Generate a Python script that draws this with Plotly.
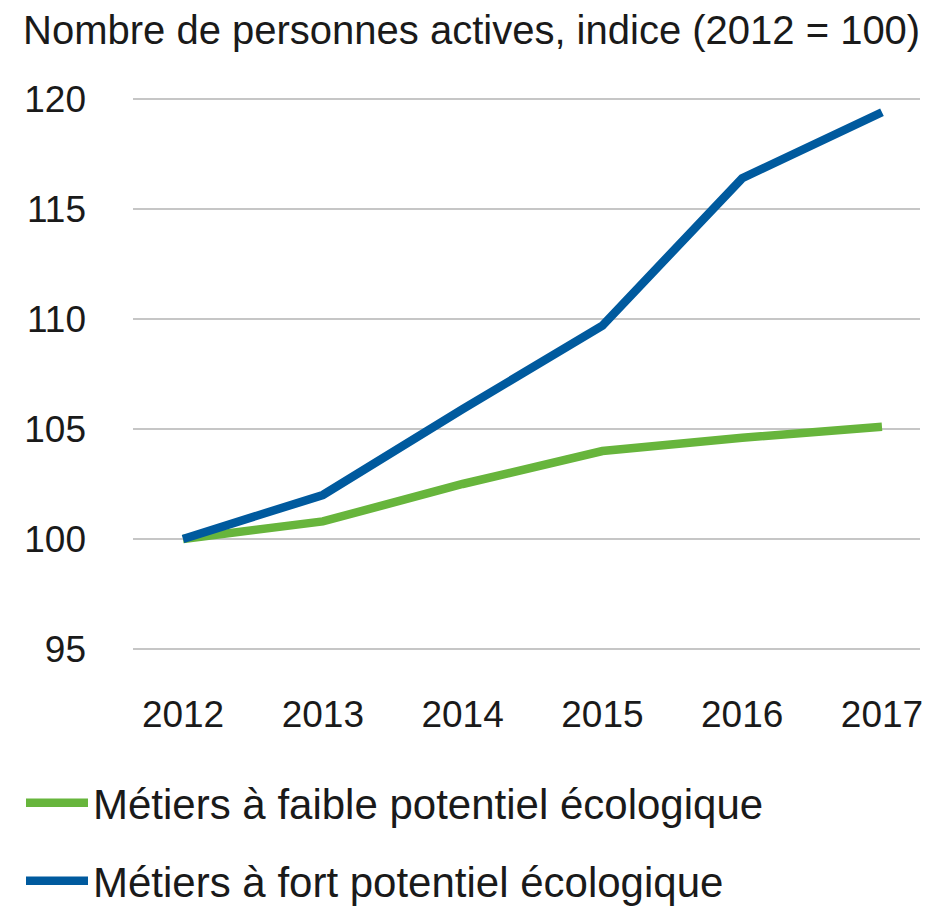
import plotly.graph_objects as go

years = [2012, 2013, 2014, 2015, 2016, 2017]
faible = [100.0, 100.8, 102.5, 104.0, 104.6, 105.1]
fort = [100.0, 102.0, 105.9, 109.7, 116.4, 119.4]
series_names = ["Métiers à faible potentiel écologique", "Métiers à fort potentiel écologique"]
title_text = "Nombre de personnes actives, indice (2012 = 100)"
y_ticks = [95, 100, 105, 110, 115, 120]

GREEN = "#67B53C"
BLUE = "#005A9E"
FONT = "Liberation Sans, Arial, sans-serif"

# the page body has an 8px margin: shrink the figure so it fits the window
OFF = 8
W, H = 931 - OFF, 906 - OFF
L, R, T, B = 133 - OFF, 11, 90 - OFF, 226
pw = W - L - R
ph = H - T - B

def px_x(p):
    return (p - OFF - L) / pw

def px_y(p):
    return (H - B - (p - OFF)) / ph

fig = go.Figure()
fig.add_trace(go.Scatter(x=years, y=faible, mode="lines", name=series_names[0],
                         line=dict(color=GREEN, width=8.5), legend="legend"))
fig.add_trace(go.Scatter(x=years, y=fort, mode="lines", name=series_names[1],
                         line=dict(color=BLUE, width=8.5), legend="legend2"))

fig.update_layout(
    width=W, height=H,
    margin=dict(l=L, r=R, t=T, b=B, autoexpand=False),
    paper_bgcolor="white", plot_bgcolor="white",
    font=dict(family=FONT, color="#1a1a1a", size=38),
    xaxis=dict(range=[2011.642, 2017.272], tickvals=years, showgrid=False,
               zeroline=False, showline=False, ticks="", ticklabelstandoff=9,
               tickfont=dict(size=37)),
    yaxis=dict(range=[93.59, 120.41], tickvals=y_ticks, showgrid=True,
               gridcolor="#C6C6C6", gridwidth=2, zeroline=False, showline=False,
               ticks="", ticklabelstandoff=46, tickfont=dict(size=37)),
    legend=dict(x=px_x(21), y=px_y(803), xanchor="left", yanchor="middle",
                font=dict(size=42), bgcolor="rgba(0,0,0,0)", itemwidth=62),
    legend2=dict(x=px_x(21), y=px_y(881), xanchor="left", yanchor="middle",
                 font=dict(size=42), bgcolor="rgba(0,0,0,0)", itemwidth=62),
    showlegend=True,
    annotations=[dict(text=title_text, xref="paper", yref="paper",
                      x=px_x(21), y=px_y(30), xanchor="left", yanchor="middle",
                      showarrow=False, font=dict(size=40))],
)

fig.write_html("out.html")
